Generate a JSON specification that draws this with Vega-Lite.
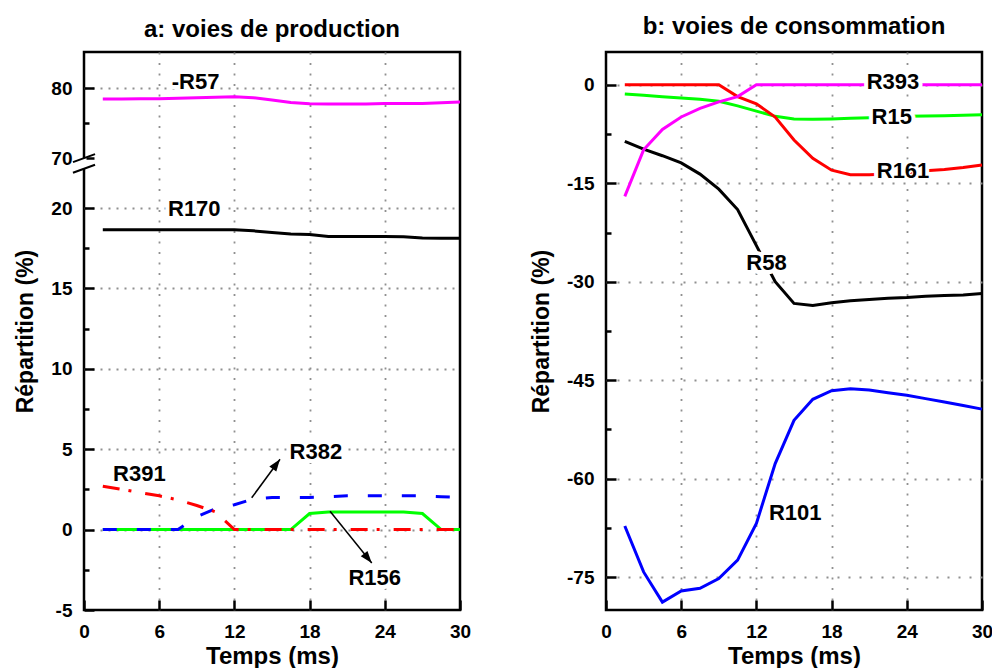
{
  "$schema": "https://vega.github.io/schema/vega-lite/v6.json",
  "background": "white",
  "padding": {"left": 13, "right": 0, "top": 13, "bottom": 0},
  "spacing": 57,
  "datasets": {
    "pa": [
      {"t": 1.5, "R57": 78.43, "R170": 18.65, "R391": 2.7, "R382": 0, "R156": 0},
      {"t": 3, "R57": 78.45, "R170": 18.65, "R391": 2.5, "R382": 0, "R156": 0},
      {"t": 4.5, "R57": 78.47, "R170": 18.65, "R391": 2.3, "R382": 0, "R156": 0},
      {"t": 6, "R57": 78.48, "R170": 18.65, "R391": 2.1, "R382": 0, "R156": 0},
      {"t": 7.5, "R57": 78.55, "R170": 18.65, "R391": 1.85, "R382": 0, "R156": 0},
      {"t": 9, "R57": 78.6, "R170": 18.65, "R391": 1.5, "R382": 0.8, "R156": 0},
      {"t": 10.5, "R57": 78.7, "R170": 18.65, "R391": 1.1, "R382": 1.3, "R156": 0},
      {"t": 12, "R57": 78.76, "R170": 18.65, "R391": 0, "R382": 1.55, "R156": 0},
      {"t": 13.5, "R57": 78.62, "R170": 18.58, "R391": 0, "R382": 1.9, "R156": 0},
      {"t": 15, "R57": 78.29, "R170": 18.48, "R391": 0, "R382": 2.0, "R156": 0},
      {"t": 16.5, "R57": 77.95, "R170": 18.38, "R391": 0, "R382": 2.0, "R156": 0},
      {"t": 18, "R57": 77.76, "R170": 18.35, "R391": 0, "R382": 2.0, "R156": 1.0},
      {"t": 19.5, "R57": 77.71, "R170": 18.23, "R391": 0, "R382": 2.05, "R156": 1.1},
      {"t": 21, "R57": 77.71, "R170": 18.23, "R391": 0, "R382": 2.1, "R156": 1.1},
      {"t": 22.5, "R57": 77.72, "R170": 18.23, "R391": 0, "R382": 2.1, "R156": 1.1},
      {"t": 24, "R57": 77.78, "R170": 18.23, "R391": 0, "R382": 2.1, "R156": 1.1},
      {"t": 25.5, "R57": 77.78, "R170": 18.22, "R391": 0, "R382": 2.1, "R156": 1.1},
      {"t": 27, "R57": 77.78, "R170": 18.13, "R391": 0, "R382": 2.1, "R156": 1.0},
      {"t": 28.5, "R57": 77.9, "R170": 18.12, "R391": 0, "R382": 2.05, "R156": 0},
      {"t": 30, "R57": 78.0, "R170": 18.12, "R391": 0, "R382": 2.0, "R156": 0}
    ],
    "pb": [
      {"t": 1.5, "R58": -8.6, "R101": -67.2, "R15": -1.4, "R161": 0, "R393": -17},
      {"t": 3, "R58": -9.8, "R101": -74.2, "R15": -1.6, "R161": 0, "R393": -9.9},
      {"t": 4.5, "R58": -10.8, "R101": -78.8, "R15": -1.8, "R161": 0, "R393": -6.8},
      {"t": 6, "R58": -11.9, "R101": -77.1, "R15": -2.0, "R161": 0, "R393": -4.9},
      {"t": 7.5, "R58": -13.6, "R101": -76.7, "R15": -2.2, "R161": 0, "R393": -3.6},
      {"t": 9, "R58": -15.9, "R101": -75.2, "R15": -2.5, "R161": 0, "R393": -2.6},
      {"t": 10.5, "R58": -19.0, "R101": -72.4, "R15": -3.2, "R161": -1.8, "R393": -1.8},
      {"t": 12, "R58": -24.5, "R101": -66.8, "R15": -4.0, "R161": -2.9, "R393": 0},
      {"t": 13.5, "R58": -30.0, "R101": -57.7, "R15": -4.8, "R161": -4.9, "R393": 0},
      {"t": 15, "R58": -33.3, "R101": -51.1, "R15": -5.2, "R161": -8.4, "R393": 0},
      {"t": 16.5, "R58": -33.6, "R101": -47.9, "R15": -5.25, "R161": -11.2, "R393": 0},
      {"t": 18, "R58": -33.2, "R101": -46.6, "R15": -5.2, "R161": -13.0, "R393": 0},
      {"t": 19.5, "R58": -32.9, "R101": -46.3, "R15": -5.1, "R161": -13.7, "R393": 0},
      {"t": 21, "R58": -32.7, "R101": -46.5, "R15": -5.0, "R161": -13.7, "R393": 0},
      {"t": 22.5, "R58": -32.5, "R101": -46.9, "R15": -4.9, "R161": -13.6, "R393": 0},
      {"t": 24, "R58": -32.4, "R101": -47.3, "R15": -4.8, "R161": -13.4, "R393": 0},
      {"t": 25.5, "R58": -32.2, "R101": -47.8, "R15": -4.75, "R161": -13.1, "R393": 0},
      {"t": 27, "R58": -32.1, "R101": -48.3, "R15": -4.7, "R161": -12.9, "R393": 0},
      {"t": 28.5, "R58": -32.0, "R101": -48.85, "R15": -4.65, "R161": -12.6, "R393": 0},
      {"t": 30, "R58": -31.8, "R101": -49.4, "R15": -4.55, "R161": -12.2, "R393": 0}
    ],
    "la": [
      {"t": 8.9, "v": 80.9, "label": "-R57"},
      {"t": 8.8, "v": 19.92, "label": "R170"},
      {"t": 4.42, "v": 3.48, "label": "R391"},
      {"t": 18.5, "v": 4.83, "label": "R382"},
      {"t": 23.2, "v": -3.02, "label": "R156"}
    ],
    "lb": [
      {"t": 22.9, "v": 0.5, "label": "R393"},
      {"t": 22.8, "v": -4.9, "label": "R15"},
      {"t": 23.7, "v": -13.2, "label": "R161"},
      {"t": 12.8, "v": -27.2, "label": "R58"},
      {"t": 15.1, "v": -65.2, "label": "R101"}
    ],
    "arrows": [
      {"label": "R382", "t1": 13.38, "v1": 1.98, "t2": 15.64, "v2": 4.375},
      {"label": "R156", "t1": 19.63, "v1": 1.14, "t2": 22.96, "v2": -2.08}
    ],
    "brk": [
      {"x1": -0.88, "y1": 69.43, "x2": 0.88, "y2": 70.57},
      {"x1": -0.88, "y1": 22.19, "x2": 0.88, "y2": 22.69}
    ],
    "gap": [
      {"x1": -0.2, "x2": 0.2, "y1": 22.44, "y2": 70.0}
    ]
  },
  "hconcat": [
    {
      "width": 376,
      "height": 558,
      "title": {"text": "a: voies de production", "offset": 10},
      "layer": [
        {
          "data": {"name": "pa"},
          "mark": {"type": "line", "color": "#00ff00", "strokeWidth": 3},
          "encoding": {
            "x": {
              "field": "t", "type": "quantitative",
              "scale": {"domain": [0, 30], "nice": false, "zero": false},
              "axis": {
                "title": "Temps (ms)",
                "titleFontSize": 24,
                "titlePadding": 3,
                "values": [0, 3, 6, 9, 12, 15, 18, 21, 24, 27, 30],
                "labelExpr": "datum.value % 6 === 0 ? datum.label : ''",
                "tickDash": {"condition": {"test": "datum.value % 6 === 0", "value": []}, "value": [5, 30]},
                "gridDash": [2, 8.5],
                "gridOpacity": {"condition": {"test": "datum.value % 6 === 0 && datum.value > 0 && datum.value < 30", "value": 1}, "value": 0}
              }
            },
            "y": {
              "field": "R156", "type": "quantitative",
              "scale": {"domain": [-5, 22.8, 69.3, 85.14], "range": [558, 111, 111, 0], "nice": false, "zero": false},
              "axis": {
                "title": "Répartition (%)",
                "titlePadding": 13,
                "values": [-5, -2.5, 0, 2.5, 5, 7.5, 10, 12.5, 15, 17.5, 20, 70, 75, 80],
                "labelExpr": "(datum.value % 10 === 0 || (datum.value < 50 && datum.value % 5 === 0)) ? replace(datum.label, '\u2212', '-') : ''",
                "tickDash": {"condition": {"test": "datum.value % 10 === 0 || (datum.value < 50 && datum.value % 5 === 0)", "value": []}, "value": [5, 30]},
                "gridDash": [2, 6],
                "gridOpacity": {"condition": {"test": "datum.value === 80 || (datum.value >= 0 && datum.value <= 20 && datum.value % 5 === 0)", "value": 1}, "value": 0}
              }
            }
          }
        },
        {
          "data": {"name": "pa"},
          "mark": {"type": "line", "color": "#0000ff", "strokeWidth": 3, "strokeDash": [14, 20]},
          "encoding": {"x": {"field": "t", "type": "quantitative"}, "y": {"field": "R382", "type": "quantitative"}}
        },
        {
          "data": {"name": "pa"},
          "mark": {"type": "line", "color": "#ff0000", "strokeWidth": 3, "strokeDash": [17, 9, 3, 14]},
          "encoding": {"x": {"field": "t", "type": "quantitative"}, "y": {"field": "R391", "type": "quantitative"}}
        },
        {
          "data": {"name": "pa"},
          "mark": {"type": "line", "color": "#000000", "strokeWidth": 3},
          "encoding": {"x": {"field": "t", "type": "quantitative"}, "y": {"field": "R170", "type": "quantitative"}}
        },
        {
          "data": {"name": "pa"},
          "mark": {"type": "line", "color": "#ff00ff", "strokeWidth": 3},
          "encoding": {"x": {"field": "t", "type": "quantitative"}, "y": {"field": "R57", "type": "quantitative"}}
        },
        {
          "data": {"name": "gap"},
          "mark": {"type": "rect", "color": "white"},
          "encoding": {
            "x": {"field": "x1", "type": "quantitative"}, "x2": {"field": "x2"},
            "y": {"field": "y1", "type": "quantitative"}, "y2": {"field": "y2"}
          }
        },
        {
          "data": {"name": "brk"},
          "mark": {"type": "rule", "color": "black", "strokeWidth": 2},
          "encoding": {
            "x": {"field": "x1", "type": "quantitative"}, "x2": {"field": "x2"},
            "y": {"field": "y1", "type": "quantitative"}, "y2": {"field": "y2"}
          }
        },
        {
          "data": {"name": "arrows"},
          "mark": {"type": "rule", "color": "black", "strokeWidth": 1.5},
          "encoding": {
            "x": {"field": "t1", "type": "quantitative"}, "x2": {"field": "t2"},
            "y": {"field": "v1", "type": "quantitative"}, "y2": {"field": "v2"}
          }
        },
        {
          "data": {"name": "arrows"},
          "transform": [{"filter": "datum.label === 'R382'"}],
          "mark": {"type": "point", "shape": "M0,0L-0.5,1.4L0.5,1.4Z", "filled": true, "color": "black", "opacity": 1, "size": 300, "angle": 36.5},
          "encoding": {"x": {"field": "t2", "type": "quantitative"}, "y": {"field": "v2", "type": "quantitative"}}
        },
        {
          "data": {"name": "arrows"},
          "transform": [{"filter": "datum.label === 'R156'"}],
          "mark": {"type": "point", "shape": "M0,0L-0.5,1.4L0.5,1.4Z", "filled": true, "color": "black", "opacity": 1, "size": 300, "angle": 140.9},
          "encoding": {"x": {"field": "t2", "type": "quantitative"}, "y": {"field": "v2", "type": "quantitative"}}
        },
        {
          "data": {"name": "la"},
          "mark": {"type": "text", "fontSize": 22, "fontWeight": "bold", "stroke": "white", "strokeWidth": 8, "strokeJoin": "round", "fill": "white"},
          "encoding": {"x": {"field": "t", "type": "quantitative"}, "y": {"field": "v", "type": "quantitative"}, "text": {"field": "label"}}
        },
        {
          "data": {"name": "la"},
          "mark": {"type": "text", "fontSize": 22, "fontWeight": "bold", "color": "black"},
          "encoding": {"x": {"field": "t", "type": "quantitative"}, "y": {"field": "v", "type": "quantitative"}, "text": {"field": "label"}}
        }
      ]
    },
    {
      "width": 376,
      "height": 558,
      "title": {"text": "b: voies de consommation", "offset": 13.5},
      "layer": [
        {
          "data": {"name": "pb"},
          "mark": {"type": "line", "color": "#000000", "strokeWidth": 3},
          "encoding": {
            "x": {
              "field": "t", "type": "quantitative",
              "scale": {"domain": [0, 30], "nice": false, "zero": false},
              "axis": {
                "title": "Temps (ms)",
                "titleFontSize": 24,
                "titlePadding": 3,
                "values": [0, 3, 6, 9, 12, 15, 18, 21, 24, 27, 30],
                "labelExpr": "datum.value % 6 === 0 ? datum.label : ''",
                "tickDash": {"condition": {"test": "datum.value % 6 === 0", "value": []}, "value": [5, 30]},
                "gridDash": [2, 8.5],
                "gridOpacity": {"condition": {"test": "datum.value % 6 === 0 && datum.value > 0 && datum.value < 30", "value": 1}, "value": 0}
              }
            },
            "y": {
              "field": "R58", "type": "quantitative",
              "scale": {"domain": [-80, 5], "nice": false, "zero": false},
              "axis": {
                "title": "Répartition (%)",
                "titlePadding": 13,
                "values": [-75, -67.5, -60, -52.5, -45, -37.5, -30, -22.5, -15, -7.5, 0],
                "labelExpr": "datum.value % 15 === 0 ? replace(datum.label, '\u2212', '-') : ''",
                "tickDash": {"condition": {"test": "datum.value % 15 === 0", "value": []}, "value": [5, 30]},
                "gridDash": [2, 9],
                "gridOpacity": {"condition": {"test": "datum.value % 15 === 0", "value": 1}, "value": 0}
              }
            }
          }
        },
        {
          "data": {"name": "pb"},
          "mark": {"type": "line", "color": "#0000ff", "strokeWidth": 3},
          "encoding": {"x": {"field": "t", "type": "quantitative"}, "y": {"field": "R101", "type": "quantitative"}}
        },
        {
          "data": {"name": "pb"},
          "mark": {"type": "line", "color": "#00ff00", "strokeWidth": 3},
          "encoding": {"x": {"field": "t", "type": "quantitative"}, "y": {"field": "R15", "type": "quantitative"}}
        },
        {
          "data": {"name": "pb"},
          "mark": {"type": "line", "color": "#ff0000", "strokeWidth": 3},
          "encoding": {"x": {"field": "t", "type": "quantitative"}, "y": {"field": "R161", "type": "quantitative"}}
        },
        {
          "data": {"name": "pb"},
          "mark": {"type": "line", "color": "#ff00ff", "strokeWidth": 3},
          "encoding": {"x": {"field": "t", "type": "quantitative"}, "y": {"field": "R393", "type": "quantitative"}}
        },
        {
          "data": {"name": "lb"},
          "mark": {"type": "text", "fontSize": 22, "fontWeight": "bold", "stroke": "white", "strokeWidth": 8, "strokeJoin": "round", "fill": "white"},
          "encoding": {"x": {"field": "t", "type": "quantitative"}, "y": {"field": "v", "type": "quantitative"}, "text": {"field": "label"}}
        },
        {
          "data": {"name": "lb"},
          "mark": {"type": "text", "fontSize": 22, "fontWeight": "bold", "color": "black"},
          "encoding": {"x": {"field": "t", "type": "quantitative"}, "y": {"field": "v", "type": "quantitative"}, "text": {"field": "label"}}
        }
      ]
    }
  ],
  "config": {
    "font": "Liberation Sans",
    "view": {"stroke": "black", "strokeWidth": 2.5},
    "axis": {
      "domain": false,
      "ticks": true,
      "tickSize": -10,
      "tickOpacity": 1,
      "labelFont": "Liberation Sans",
      "labelFontSize": 19,
      "labelFontWeight": "bold",
      "labelColor": "black",
      "labelPadding": 22,
      "labelFlush": false,
      "labelOverlap": false,
      "titleFont": "Liberation Sans",
      "titleFontSize": 23,
      "titleFontWeight": "bold",
      "titleColor": "black",
      "tickColor": "black",
      "tickWidth": 2.5,
      "gridColor": "#909090",
      "gridWidth": 1.8
    },
    "title": {"font": "Liberation Sans", "fontSize": 24, "fontWeight": "bold", "color": "black"}
  }
}
